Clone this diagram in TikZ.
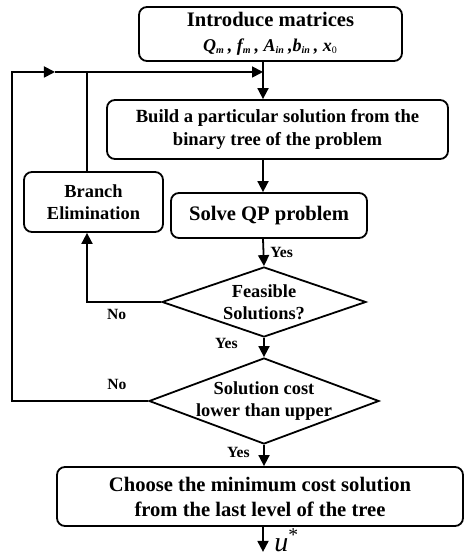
\documentclass[tikz,border=0pt]{standalone}
\usepackage{fontspec}
\setmainfont{Liberation Serif}
\usetikzlibrary{positioning, shapes.geometric, arrows.meta}

\tikzset{
  box/.style={draw, rounded corners=4pt, line width=0.9pt, align=center, inner sep=2pt,
    font=\bfseries\fontsize{10.3}{12.5}\selectfont},
  decision/.style={draw, diamond, line width=0.9pt, align=center, inner sep=-1.5pt,
    font=\bfseries\fontsize{9.2}{11}\selectfont},
  lbl/.style={font=\bfseries\fontsize{7.8}{9}\selectfont, inner sep=1pt},
  flow/.style={line width=0.9pt, -{Triangle[length=5.5pt,width=5.5pt]}},
  wire/.style={line width=0.9pt},
}

\begin{document}
\begin{tikzpicture}[node distance=10pt]
  \useasboundingbox (-135.25pt,17pt) rectangle (97.25pt,-260.5pt);

  \node[box, inner ysep=0.5pt, minimum width=131.5pt, minimum height=27pt] (intro)
    {Introduce matrices\\
     {\itshape\fontsize{9}{11}\selectfont Q\textsubscript{\tiny m}\,, f\textsubscript{\tiny m}\,, A\textsubscript{\tiny in}\,,b\textsubscript{\tiny in}\,, x\textsubscript{\upshape\mdseries\tiny 0}}};
  \node[box, below=18.6pt of intro, xshift=3.5pt, minimum width=170.5pt, minimum height=29.5pt,
    font=\bfseries\fontsize{9.3}{11.5}\selectfont] (build)
    {Build a particular solution from the\\binary tree of the problem};
  \node[box, below=16.1pt of build, xshift=-4.25pt, minimum width=98pt, minimum height=22.5pt] (solve)
    {Solve QP problem};
  \node[decision, aspect=2.9, below=13.6pt of solve, xshift=-2.5pt, minimum width=102pt, minimum height=35pt] (feas)
    {Feasible\\Solutions?};
  \node[decision, aspect=2.67, below=9.6pt of feas, minimum width=115pt, minimum height=43pt] (cost)
    {Solution cost\\lower than upper};
  \node[box, below=10.6pt of cost, xshift=-2pt, minimum width=203pt, minimum height=29.5pt] (choose)
    {Choose the minimum cost solution\\from the last level of the tree};
  \node[box, minimum width=69.5pt, minimum height=30pt, font=\bfseries\fontsize{9.2}{11}\selectfont] (branch)
    at (-88.5pt,-84pt) {Branch\\Elimination};

  % loop-back line above the build box
  \coordinate (spine) at (-3.75pt,0);
  \coordinate (loop) at (-3.75pt,-19pt);
  \coordinate (outer) at (-129.25pt,-19pt);
  \coordinate (merge) at (-107.75pt,-19pt);
  \coordinate (brx) at (-91.75pt,-19pt);

  \draw[flow] (intro.south -| spine) -- (build.north -| spine);
  \draw[flow] (build.south -| spine) -- (solve.north -| spine);
  \draw[flow] (solve.south -| spine) -- node[lbl, right=2pt] (yes1) {Yes} (feas.north);
  \draw[flow] (feas.south) -- (cost.north);
  \node[lbl, below left=-1pt and 12pt of feas.south] (yes2) {Yes};
  \draw[flow] (cost.south) -- (choose.north -| cost.south);
  \node[lbl, below left=0pt and 6pt of cost.south] (yes3) {Yes};
  \draw[flow] (choose.south -| spine) -- ++(0,-12.5pt) coordinate (tip);
  \node[anchor=base west, inner sep=0pt, xshift=5.5pt] (ustar) at (tip)
    {\fontsize{14}{14}\selectfont\mdseries\itshape u\textsuperscript{\upshape *}};

  % infeasible branch
  \draw[flow] (feas.west) -- node[lbl, below, pos=0.6, yshift=-2pt] (no1) {No} (feas.west -| brx)
    -- (branch.south -| brx);
  \draw[wire] (branch.north -| brx) -- (brx);

  % cost too high
  \draw[flow] (cost.west) -- node[lbl, above, pos=0.23, yshift=4pt] (no2) {No} (cost.west -| outer)
    -- (outer) -- (merge);
  \draw[flow] (merge) -- (loop);
\end{tikzpicture}
\end{document}
